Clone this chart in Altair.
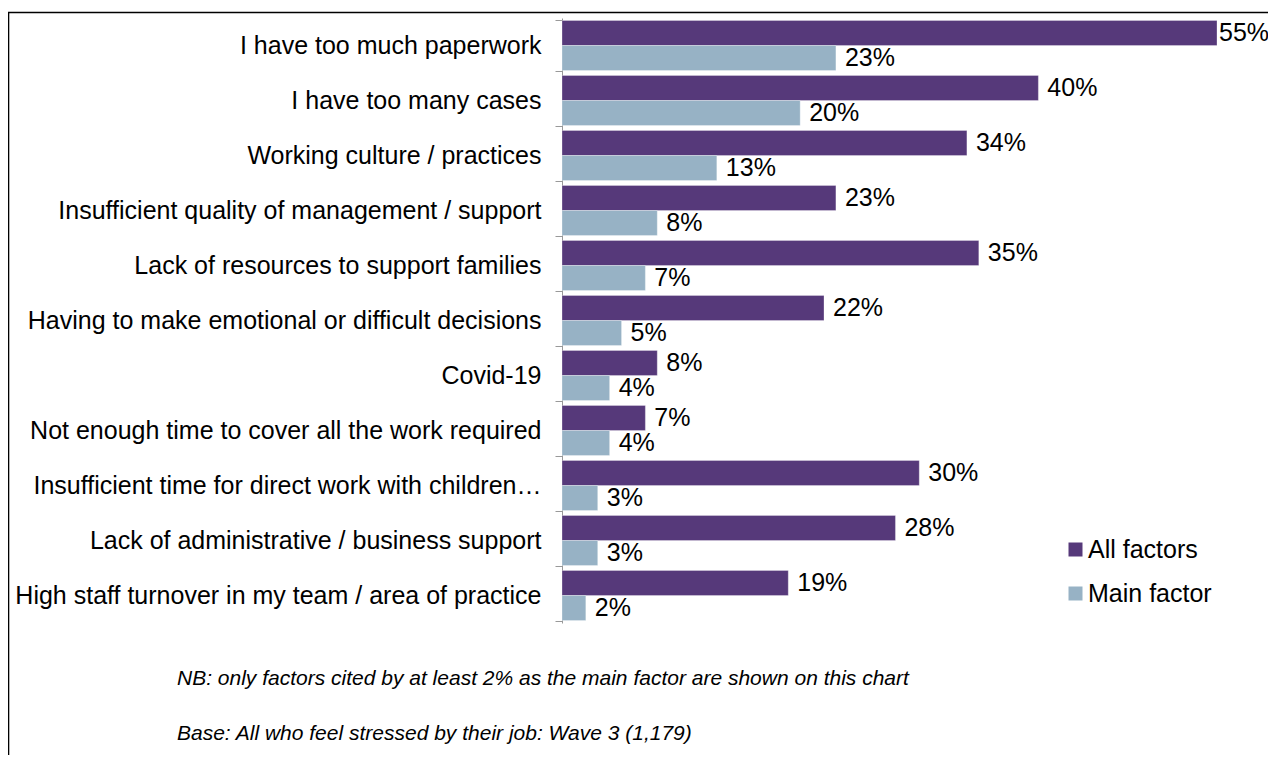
import altair as alt
import pandas as pd

categories = [
    "I have too much paperwork",
    "I have too many cases",
    "Working culture / practices",
    "Insufficient quality of management / support",
    "Lack of resources to support families",
    "Having to make emotional or difficult decisions",
    "Covid-19",
    "Not enough time to cover all the work required",
    "Insufficient time for direct work with children\u2026",
    "Lack of administrative / business support",
    "High staff turnover in my team / area of practice",
]
all_factors = [55, 40, 34, 23, 35, 22, 8, 7, 30, 28, 19]
main_factor = [23, 20, 13, 8, 7, 5, 4, 4, 3, 3, 2]
series = ["All factors", "Main factor"]
colors = ["#56397A", "#97B2C5"]
note_nb = "NB: only factors cited by at least 2% as the main factor are shown on this chart"
note_base = "Base: All who feel stressed by their job: Wave 3 (1,179)"

rows = []
for c, a, m in zip(categories, all_factors, main_factor):
    rows.append({"category": c, "series": series[0], "value": a, "label": f"{a}%"})
    rows.append({"category": c, "series": series[1], "value": m, "label": f"{m}%"})
df = pd.DataFrame(rows)

FONT = "Liberation Sans"

y = alt.Y(
    "category:N",
    sort=categories,
    scale=alt.Scale(paddingInner=0.09, paddingOuter=0.045),
    axis=alt.Axis(
        title=None,
        domainColor="#999999",
        tickColor="#999999",
        tickSize=7,
        tickBand="extent",
        labelFontSize=25,
        labelFont=FONT,
        labelColor="black",
        labelPadding=14,
        labelLimit=0,
    ),
)
yoff = alt.YOffset("series:N", sort=series,
                   scale=alt.Scale(domain=series, paddingInner=0, paddingOuter=0))
x = alt.X("value:Q", scale=alt.Scale(domain=[0, 55], nice=False, zero=True), axis=None)
color = alt.Color(
    "series:N",
    scale=alt.Scale(domain=series, range=colors),
    legend=alt.Legend(
        title=None,
        orient="none",
        legendX=501,
        legendY=519,
        symbolType="square",
        symbolSize=196,
        symbolStrokeWidth=0,
        labelFontSize=25,
        labelFont=FONT,
        labelColor="black",
        labelOffset=0,
        rowPadding=18,
        padding=0,
        offset=0,
    ),
)

base = alt.Chart(df)
bars = base.mark_bar(stroke="white", strokeWidth=0.5, strokeOpacity=0.6).encode(
    y=y, yOffset=yoff, x=x, color=color
)
labels = base.mark_text(
    align="left", baseline="middle", dx=9, fontSize=25, font=FONT, color="black"
).encode(y=y, yOffset=yoff, x=x, text="label:N").transform_filter("datum.value < 50")
labels_edge = base.mark_text(
    align="left", baseline="middle", dx=2, fontSize=25, font=FONT, color="black"
).encode(y=y, yOffset=yoff, x=x, text="label:N").transform_filter("datum.value >= 50")

single = pd.DataFrame({"k": [0]})
frame = alt.Chart(single).mark_rect(
    fillOpacity=0, stroke="black", strokeWidth=1.6
).encode(
    x=alt.value(-553.5), x2=alt.value(760), y=alt.value(-5.5), y2=alt.value(800)
)
nb = alt.Chart(single).mark_text(
    align="left", baseline="middle", fontSize=21, fontStyle="italic",
    font=FONT, color="black"
).encode(x=alt.value(-385), y=alt.value(661), text=alt.value(note_nb))
base_note = alt.Chart(single).mark_text(
    align="left", baseline="middle", fontSize=21, fontStyle="italic",
    font=FONT, color="black"
).encode(x=alt.value(-385), y=alt.value(716), text=alt.value(note_base))

chart = alt.layer(frame, bars, labels, labels_edge, nb, base_note).properties(
    width=655,
    height=605,
    autosize=alt.AutoSizeParams(type="none"),
    padding={"left": 554, "top": 10, "right": 51, "bottom": 132},
).configure_view(stroke="transparent")

chart.save("out.html", embed_options={"renderer": "svg", "actions": False})
